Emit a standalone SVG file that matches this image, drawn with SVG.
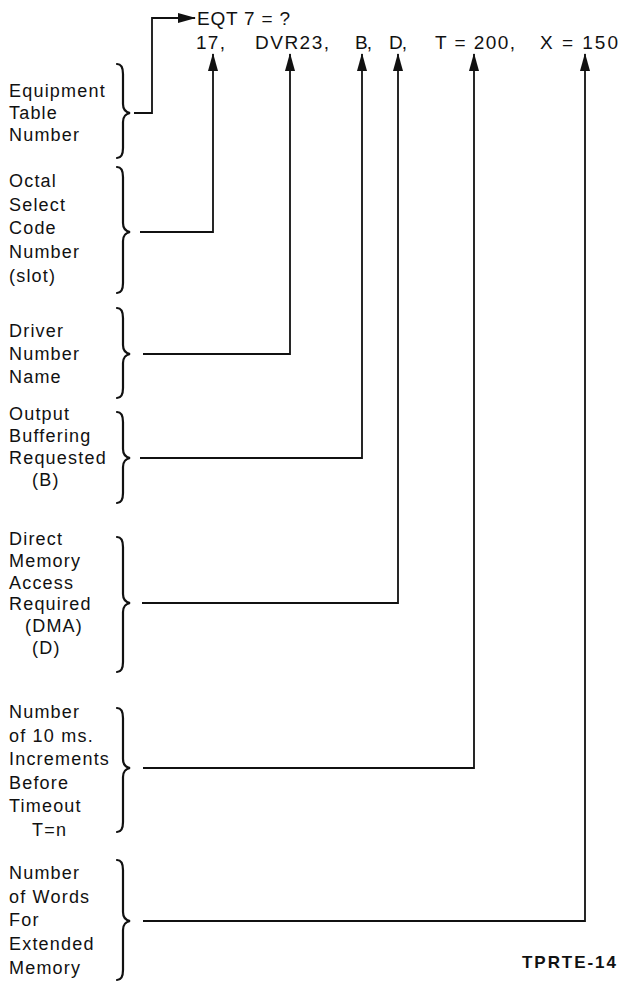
<svg xmlns="http://www.w3.org/2000/svg" width="621" height="982" viewBox="0 0 621 982">
<style>
text{font-family:"Liberation Sans",Arial,sans-serif;fill:#111}
.lbl{font-size:18px;letter-spacing:1.2px}
.top{font-size:19px}
.brace{fill:none;stroke:#111;stroke-width:2.2;stroke-linecap:round}
.conn{fill:none;stroke:#111;stroke-width:1.8}
.tag{font-size:17px;font-weight:bold}
</style>
<defs>
<marker id="ah" markerUnits="userSpaceOnUse" markerWidth="18" markerHeight="10" refX="17" refY="5" orient="auto">
<path d="M0,0 L18,5 L0,10 z" fill="#111"/>
</marker>
</defs>
<rect width="621" height="982" fill="#fff"/>

<g id="statement">
<text class="top" x="197" y="25" textLength="93" lengthAdjust="spacing" xml:space="preserve">EQT 7 = ?</text>
<text class="top" x="196" y="49" textLength="29" lengthAdjust="spacing">17,</text>
<text class="top" x="255" y="49" textLength="74" lengthAdjust="spacing">DVR23,</text>
<text class="top" x="355" y="49" textLength="17" lengthAdjust="spacing">B,</text>
<text class="top" x="389" y="49" textLength="18" lengthAdjust="spacing">D,</text>
<text class="top" x="435" y="49" textLength="80" lengthAdjust="spacing" xml:space="preserve">T = 200,</text>
<text class="top" x="540" y="49" textLength="78" lengthAdjust="spacing" xml:space="preserve">X = 150</text>
</g>

<g id="n-equipment">
<path class="brace" d="M117,64 C122,64 123,68 123,74 L123,104 C123,109 125,112 130,113 C125,114 123,117 123,122 L123,148 C123,154 122,158 117,158"/>
<text class="lbl" x="9" y="97">Equipment</text>
<text class="lbl" x="9" y="119">Table</text>
<text class="lbl" x="9" y="141">Number</text>
</g>

<g id="n-octal">
<path class="brace" d="M117,167 C122,167 123,171 123,177 L123,223 C123,228 125,231 130,232 C125,233 123,236 123,241 L123,283 C123,289 122,293 117,293"/>
<text class="lbl" x="9" y="187">Octal</text>
<text class="lbl" x="9" y="211">Select</text>
<text class="lbl" x="9" y="234">Code</text>
<text class="lbl" x="9" y="258">Number</text>
<text class="lbl" x="9" y="282">(slot)</text>
</g>

<g id="n-driver">
<path class="brace" d="M117,308 C122,308 123,312 123,318 L123,345 C123,350 125,353 130,354 C125,355 123,358 123,363 L123,388 C123,394 122,398 117,398"/>
<text class="lbl" x="9" y="337">Driver</text>
<text class="lbl" x="9" y="360">Number</text>
<text class="lbl" x="9" y="383">Name</text>
</g>

<g id="n-output">
<path class="brace" d="M117,412 C122,412 123,416 123,422 L123,449 C123,454 125,457 130,458 C125,459 123,462 123,467 L123,493 C123,499 122,503 117,503"/>
<text class="lbl" x="9" y="420">Output</text>
<text class="lbl" x="9" y="442">Buffering</text>
<text class="lbl" x="9" y="464">Requested</text>
<text class="lbl" x="32" y="486">(B)</text>
</g>

<g id="n-dma">
<path class="brace" d="M117,537 C122,537 123,541 123,547 L123,594 C123,599 125,602 130,603 C125,604 123,607 123,612 L123,662 C123,668 122,672 117,672"/>
<text class="lbl" x="9" y="545">Direct</text>
<text class="lbl" x="9" y="567">Memory</text>
<text class="lbl" x="9" y="589">Access</text>
<text class="lbl" x="9" y="610">Required</text>
<text class="lbl" x="25" y="632">(DMA)</text>
<text class="lbl" x="32" y="654">(D)</text>
</g>

<g id="n-timeout">
<path class="brace" d="M117,708 C122,708 123,712 123,718 L123,759 C123,764 125,767 130,768 C125,769 123,772 123,777 L123,822 C123,828 122,832 117,832"/>
<text class="lbl" x="9" y="718">Number</text>
<text class="lbl" x="9" y="742">of 10 ms.</text>
<text class="lbl" x="9" y="765">Increments</text>
<text class="lbl" x="9" y="789">Before</text>
<text class="lbl" x="9" y="812">Timeout</text>
<text class="lbl" x="32" y="836">T=n</text>
</g>

<g id="n-words">
<path class="brace" d="M117,860 C122,860 123,864 123,870 L123,912 C123,917 125,920 130,921 C125,922 123,925 123,930 L123,970 C123,976 122,980 117,980"/>
<text class="lbl" x="9" y="879">Number</text>
<text class="lbl" x="9" y="903">of Words</text>
<text class="lbl" x="9" y="926">For</text>
<text class="lbl" x="9" y="950">Extended</text>
<text class="lbl" x="9" y="974">Memory</text>
</g>

<g id="tag">
<text class="tag" x="522" y="968" textLength="94" lengthAdjust="spacing">TPRTE-14</text>
</g>

<g id="connectors">
<path class="conn" d="M134,113 H152 V18 H195" marker-end="url(#ah)"/>
<path class="conn" d="M140,232 H213 V54" marker-end="url(#ah)"/>
<path class="conn" d="M143,354 H290 V54" marker-end="url(#ah)"/>
<path class="conn" d="M140,458 H362 V54" marker-end="url(#ah)"/>
<path class="conn" d="M142,603 H398 V54" marker-end="url(#ah)"/>
<path class="conn" d="M143,768 H474 V54" marker-end="url(#ah)"/>
<path class="conn" d="M143,921 H585 V54" marker-end="url(#ah)"/>
</g>
</svg>
